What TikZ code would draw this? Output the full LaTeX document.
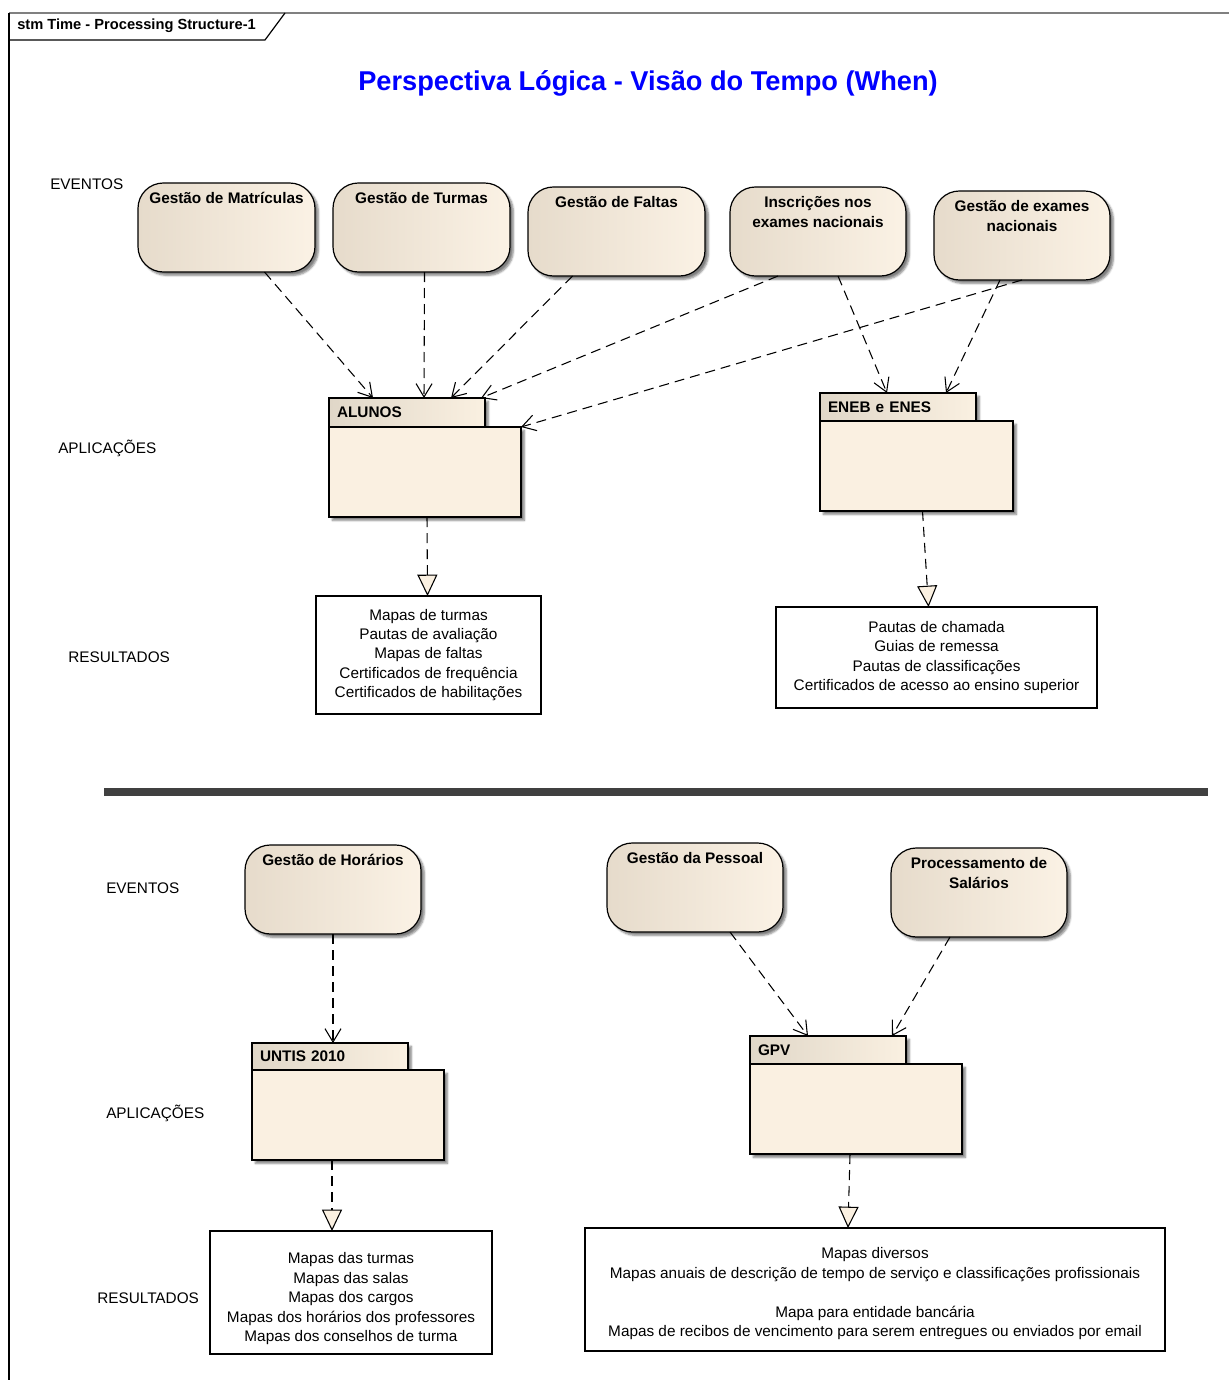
\documentclass[tikz,border=0pt]{standalone}
\usepackage{fontspec}
\setmainfont{Liberation Sans}
\definecolor{stmblue}{RGB}{0,0,255}
\definecolor{statedark}{RGB}{230,219,203}
\definecolor{statelight}{RGB}{251,242,229}
\definecolor{pkgcream}{RGB}{250,240,225}
\definecolor{pkgdark}{RGB}{224,215,200}
\definecolor{barcolor}{RGB}{64,64,64}
\usetikzlibrary{positioning,shapes,arrows.meta,shadows,shadows.blur}
\newlength{\px}
\setlength{\px}{0.75pt}

\begin{document}
\begin{tikzpicture}[x=0.75pt, y=-0.75pt,
    every node/.style={font=\fontsize{11.5}{14.6}\selectfont},
    softshadow/.style={blur shadow={shadow xshift=2.5pt, shadow yshift=-2.5pt, shadow blur steps=5, shadow blur radius=1.5pt, shadow opacity=50}},
    state/.style={rectangle, rounded corners=19pt, draw=black, line width=0.9pt, left color=statedark, right color=statelight, minimum width=177\px, minimum height=89\px, anchor=north west, outer sep=0pt, softshadow},
    statename/.style={anchor=north, inner sep=0pt, yshift=-9\px, align=center, font=\bfseries\fontsize{11.5}{15}\selectfont},
    pkgtab/.style={rectangle, draw=black, line width=0.9pt, left color=pkgdark, right color=pkgcream, text width=140\px, inner xsep=8\px, inner ysep=0pt, minimum height=28\px, align=left, anchor=north west, outer sep=0pt, font=\bfseries\fontsize{11.5}{14}\selectfont, softshadow},
    pkgbox/.style={rectangle, draw=black, line width=0.9pt, fill=pkgcream, minimum width=192\px, minimum height=90\px, anchor=north west, outer sep=0pt, softshadow},
    result/.style={rectangle, draw=black, line width=0.9pt, fill=white, align=center, anchor=north west, outer sep=0pt},
    rowlabel/.style={anchor=west, inner sep=0pt},
    dep/.style={dash pattern=on 7.5pt off 4.5pt, line width=0.8pt, -{Straight Barb[length=10pt, width=12pt]}},
    real/.style={dash pattern=on 7.5pt off 4.5pt, line width=0.8pt, -{Triangle[length=16pt, width=15pt, fill=pkgcream]}}
]
\useasboundingbox (0,0) rectangle (1229,1380);

% Frame
\draw[black!50, line width=1.2pt] (9,13) -- (1229,13);
\draw[line width=1.2pt] (9,13) -- (9,1380);
\draw[line width=0.9pt] (9,40) -- (265,40) -- (285,13);
\node[anchor=west, inner sep=0pt, font=\bfseries\fontsize{11}{13}\selectfont] (frame) at (17,26) {stm Time - Processing Structure-1};

% Title
\node[font=\bfseries\fontsize{20.4}{24}\selectfont, text=stmblue] (title) at (648,83) {Perspectiva Lógica - Visão do Tempo (When)};

% Row labels
\node[rowlabel] (ev1) at (50,184) {EVENTOS};
\node[rowlabel] (ap1) at (58,448) {APLICAÇÕES};
\node[rowlabel] (re1) at (68,657) {RESULTADOS};
\node[rowlabel] (ev2) at (106,888) {EVENTOS};
\node[rowlabel] (ap2) at (106,1113) {APLICAÇÕES};
\node[rowlabel] (re2) at (97,1298) {RESULTADOS};

% Events (top)
\node[state, label={[statename]north:Gestão de Matrículas}] (matr) at (138,183) {};
\node[state, label={[statename]north:Gestão de Turmas}] (turmas) at (333,183) {};
\node[state, label={[statename]north:Gestão de Faltas}] (faltas) at (528,187) {};
\node[state, minimum width=176\px, label={[statename]north:Inscrições nos\\exames nacionais}] (inscr) at (730,187) {};
\node[state, minimum width=176\px, label={[statename]north:Gestão de exames\\nacionais}] (exames) at (934,191) {};

% Applications (top)
\node[pkgtab, minimum height=29\px] (alunostab) at (329,398) {ALUNOS};
\node[pkgbox] (alunos) at (alunostab.south west) {};
\node[pkgtab] (enebtab) at (820,393) {ENEB e ENES};
\node[pkgbox, minimum width=193\px] (eneb) at (enebtab.south west) {};

% Results (top)
\node[result, minimum width=225\px, minimum height=118\px] (alunosres) at (316,596) {Mapas de turmas\\Pautas de avaliação\\Mapas de faltas\\Certificados de frequência\\Certificados de habilitações};
\node[result, minimum width=321\px, minimum height=101\px] (enebres) at (776,607) {Pautas de chamada\\Guias de remessa\\Pautas de classificações\\Certificados de acesso ao ensino superior};

% Connections (top)
\draw[dep] ([xshift=38\px]matr.south) -- ([xshift=-34\px]alunostab.north);
\draw[dep] ([xshift=3\px]turmas.south) -- ([xshift=17\px]alunostab.north);
\draw[dep] ([xshift=-44\px]faltas.south) -- ([xshift=44\px]alunostab.north);
\draw[dep] ([xshift=-40\px]inscr.south) -- ([xshift=74\px]alunostab.north);
\draw[dep] (exames.south) -- (alunos.north east);
\draw[dep] ([xshift=20\px]inscr.south) -- ([xshift=-11\px]enebtab.north);
\draw[dep] ([xshift=-22\px]exames.south) -- ([xshift=48\px]enebtab.north);
\draw[real] ([xshift=2\px]alunos.south) -- ([xshift=-1\px]alunosres.north);
\draw[real] ([xshift=6\px]eneb.south) -- ([xshift=-8\px]enebres.north);

% Separator
\draw[barcolor, line width=6pt] (104,792) -- (1208,792);

% Events (bottom)
\node[state, minimum width=176\px, label={[statename]north:Gestão de Horários}] (horarios) at (245,845) {};
\node[state, minimum width=176\px, label={[statename]north:Gestão da Pessoal}] (pessoal) at (607,843) {};
\node[state, minimum width=176\px, label={[statename]north:Processamento de\\Salários}] (salarios) at (891,848) {};

% Applications (bottom)
\node[pkgtab, minimum height=27\px] (untistab) at (252,1043) {UNTIS 2010};
\node[pkgbox] (untis) at (untistab.south west) {};
\node[pkgtab] (gpvtab) at (750,1036) {GPV};
\node[pkgbox, minimum width=212\px] (gpv) at (gpvtab.south west) {};

% Results (bottom)
\node[result, minimum width=282\px, minimum height=123\px, text height=76pt] (untisres) at (210,1231) {Mapas das turmas\\Mapas das salas\\Mapas dos cargos\\Mapas dos horários dos professores\\Mapas dos conselhos de turma};
\node[result, minimum width=580\px, minimum height=123\px, text height=73pt] (gpvres) at (585,1228) {Mapas diversos\\Mapas anuais de descrição de tempo de serviço e classificações profissionais\\[\baselineskip]Mapa para entidade bancária\\Mapas de recibos de vencimento para serem entregues ou enviados por email};

% Connections (bottom)
\draw[dep] (horarios.south) -- ([xshift=3\px]untistab.north);
\draw[dep] ([xshift=35\px]pessoal.south) -- ([xshift=-20\px]gpvtab.north);
\draw[dep] ([xshift=-29\px]salarios.south) -- ([xshift=64\px]gpvtab.north);
\draw[real] ([xshift=-16\px]untis.south) -- ([xshift=-19\px]untisres.north);
\draw[real] ([xshift=-6\px]gpv.south) -- ([xshift=-27\px]gpvres.north);

\end{tikzpicture}
\end{document}
